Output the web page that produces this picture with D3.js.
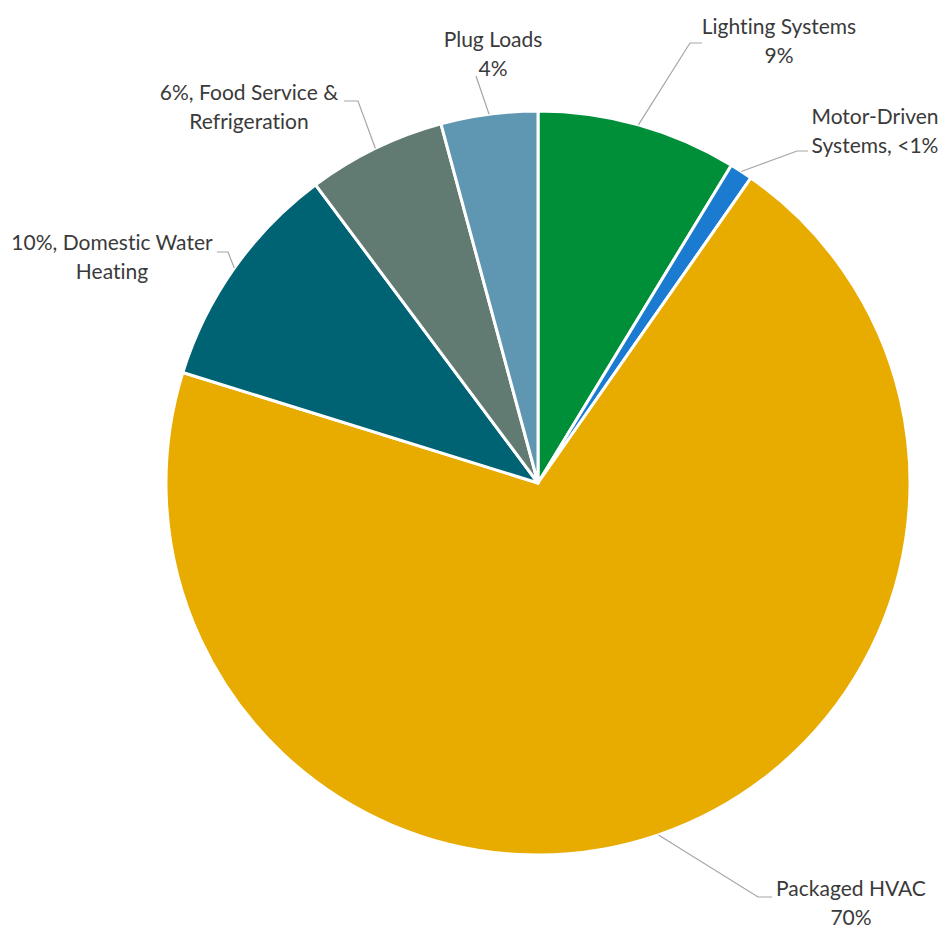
<!DOCTYPE html>
<html>
<head>
<meta charset="utf-8">
<script src="https://cdn.jsdelivr.net/npm/d3@7"></script>
<style>
    body { margin: 0; background: #fff; }
    text {
        font-family: Lato, "Open Sans", sans-serif;
        fill: #3a3a3a;
        font-variant-ligatures: none;
    }
</style>
</head>
<body>
<script>
// Share of energy use by end use, clockwise from 12 o'clock
var categories = ["Lighting Systems", "Motor-Driven Systems",
    "Packaged HVAC", "Domestic Water Heating",
    "Food Service & Refrigeration", "Plug Loads"];
var values = [8.7, 1.0, 70.1, 10.0, 6.0, 4.2];
var colors = ["#008F39", "#1A7BD1", "#E8AB00", "#006374", "#617B73",
    "#5F97B3"];
// label text lines as printed on the chart
var labelLines = [
    ["Lighting Systems", "9%"],
    ["Motor-Driven", "Systems, <1%"],
    ["Packaged HVAC", "70%"],
    ["10%, Domestic Water", "Heating"],
    ["6%, Food Service &", "Refrigeration"],
    ["Plug Loads", "4%"]
];

// layout of the labels: text centre, first baseline, leader elbow points
var labelLayout = [
    {x: 779, y: 34, pts: [[690, 43], [702, 43]]},
    {x: 875, y: 124, pts: [[797, 151], [808, 151]]},
    {x: 851, y: 896, pts: [[758, 897], [772, 897]]},
    {x: 112, y: 250, pts: [[228, 252], [217, 252]]},
    {x: 249, y: 100, pts: [[358, 101], [344, 101]]},
    {x: 493, y: 47, pts: [[476, 76]]}
];

var width = 946, height = 928;
var cx = 538, cy = 483, radius = 372;

var svg = d3.select("body").append("svg")
    .attr("width", width)
    .attr("height", height);

var data = categories.map(function (c, i) {
    return {key: c, value: values[i], color: colors[i],
        lines: labelLines[i], layout: labelLayout[i]};
});

var pie = d3.pie().sort(null).value(function (d) { return d.value; });
var arc = d3.arc().innerRadius(0).outerRadius(radius);
var arcs = pie(data);

var g = svg.append("g")
    .attr("transform", "translate(" + cx + "," + cy + ")");

g.selectAll("path")
    .data(arcs)
    .enter()
    .append("path")
    .attr("d", arc)
    .attr("fill", function (d) { return d.data.color; })
    .attr("stroke", "#fff")
    .attr("stroke-width", 3)
    .attr("stroke-linejoin", "round");

// leader lines from the edge of each slice to its label
var line = d3.line();
svg.selectAll("path.leader")
    .data(arcs)
    .enter()
    .append("path")
    .attr("class", "leader")
    .attr("d", function (d) {
        var a = (d.startAngle + d.endAngle) / 2;
        var start = [cx + radius * Math.sin(a), cy - radius * Math.cos(a)];
        return line([start].concat(d.data.layout.pts));
    })
    .attr("fill", "none")
    .attr("stroke", "#A6A6A6")
    .attr("stroke-width", 1.2);

var labels = svg.selectAll("text.label")
    .data(arcs)
    .enter()
    .append("text")
    .attr("class", "label")
    .attr("text-anchor", "middle")
    .attr("font-size", "21px")
    .attr("x", function (d) { return d.data.layout.x; })
    .attr("y", function (d) { return d.data.layout.y; });

labels.selectAll("tspan")
    .data(function (d) {
        return d.data.lines.map(function (t) {
            return {t: t, x: d.data.layout.x};
        });
    })
    .enter()
    .append("tspan")
    .attr("x", function (d) { return d.x; })
    .attr("dy", function (d, i) { return i === 0 ? 0 : 29; })
    .text(function (d) { return d.t; });
</script>
</body>
</html>
